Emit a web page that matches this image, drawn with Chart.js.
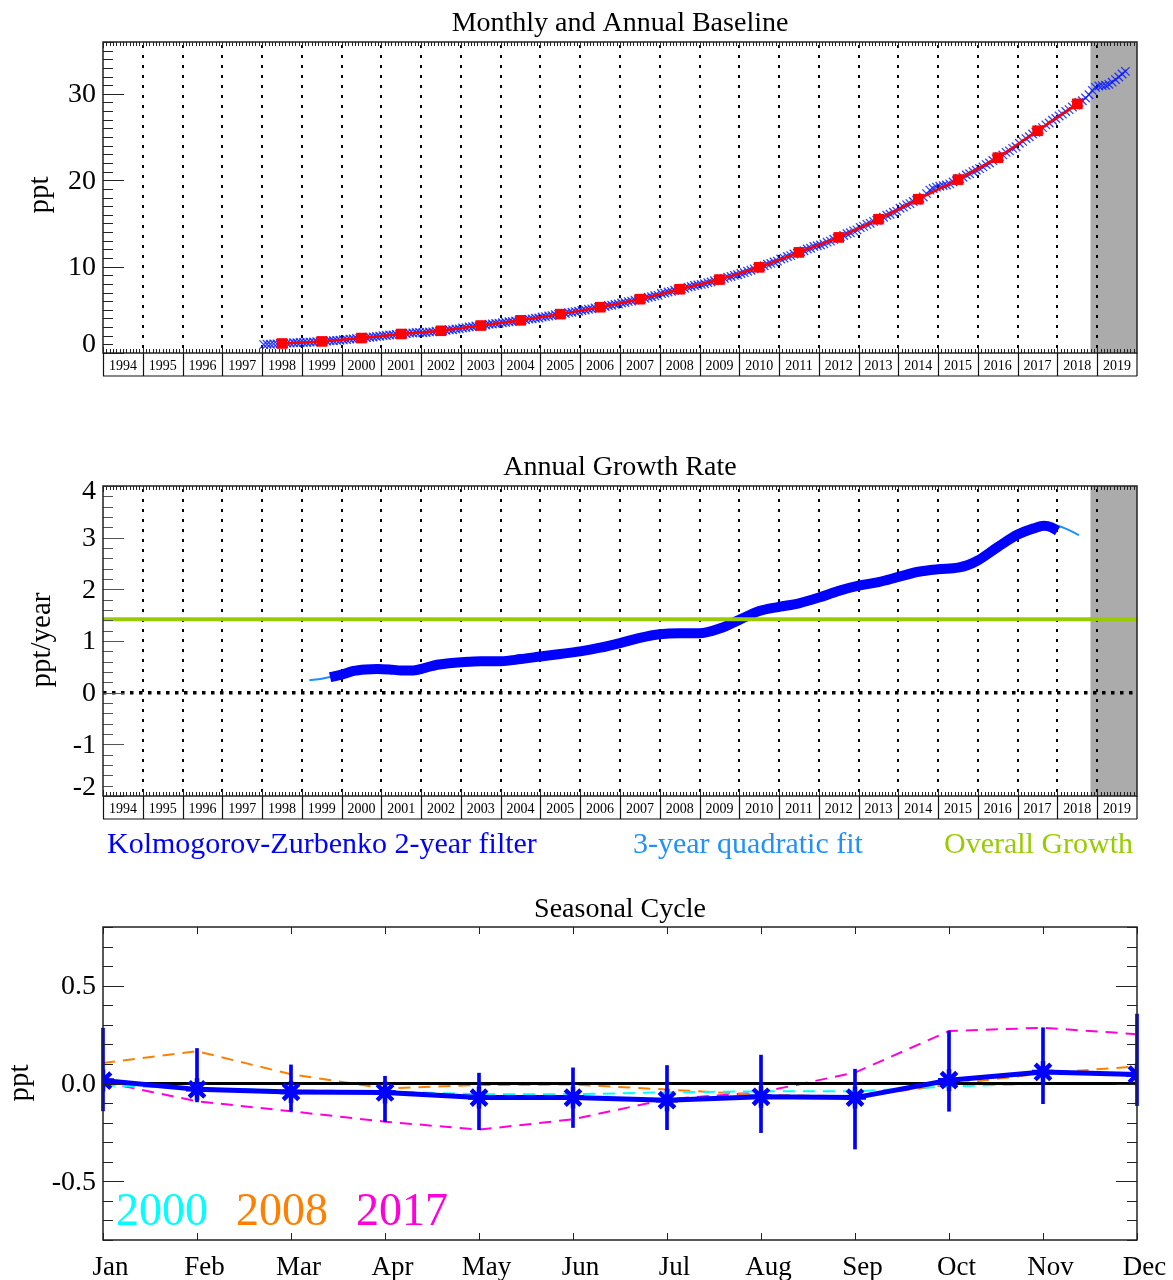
<!DOCTYPE html>
<html>
<head>
<meta charset="utf-8">
<script src="https://cdn.jsdelivr.net/npm/chart.js@4/dist/chart.umd.min.js"></script>
<style>
  body { margin: 0; background: #fff; width: 1173px; height: 1280px; position: relative; overflow: hidden; }
  canvas { position: absolute; left: 0; }
</style>
</head>
<body>
<canvas id="baseline" width="1173" height="420" style="top:0px"></canvas>
<canvas id="growth" width="1173" height="440" style="top:440px"></canvas>
<canvas id="seasonal" width="1173" height="400" style="top:880px"></canvas>
<script>
// ---- axis years (boxed labels under the time-series panels) ----
const axisYears = [1994, 1995, 1996, 1997, 1998, 1999, 2000, 2001, 2002, 2003, 2004, 2005, 2006,
                   2007, 2008, 2009, 2010, 2011, 2012, 2013, 2014, 2015, 2016, 2017, 2018, 2019];
const shadeFrom = 2018.83;   // data after this date are preliminary

// ---- monthly baseline (ppt), one row per year starting 1998 ----
const monthlyStartYear = 1998;
const monthlyBaseline = [
  [0.97, 1.01, 1.02, 1.06, 1.06, 1.10, 1.10, 1.14, 1.14, 1.18, 1.18, 1.22],
  [1.21, 1.22, 1.26, 1.27, 1.31, 1.32, 1.36, 1.37, 1.41, 1.42, 1.46, 1.47],
  [1.53, 1.55, 1.61, 1.63, 1.68, 1.70, 1.76, 1.78, 1.83, 1.85, 1.91, 1.93],
  [2.01, 2.03, 2.09, 2.10, 2.16, 2.17, 2.23, 2.24, 2.30, 2.31, 2.37, 2.39],
  [2.35, 2.37, 2.44, 2.45, 2.52, 2.53, 2.60, 2.62, 2.69, 2.70, 2.77, 2.79],
  [2.90, 2.94, 3.01, 3.04, 3.12, 3.14, 3.22, 3.25, 3.32, 3.35, 3.42, 3.45],
  [3.50, 3.54, 3.61, 3.64, 3.71, 3.74, 3.82, 3.85, 3.92, 3.95, 4.02, 4.05],
  [4.16, 4.21, 4.29, 4.33, 4.42, 4.46, 4.54, 4.58, 4.67, 4.71, 4.79, 4.83],
  [4.92, 4.97, 5.06, 5.11, 5.21, 5.25, 5.35, 5.39, 5.49, 5.53, 5.63, 5.68],
  [5.78, 5.84, 5.95, 6.01, 6.12, 6.17, 6.29, 6.34, 6.45, 6.51, 6.62, 6.67],
  [6.88, 6.95, 7.07, 7.13, 7.26, 7.32, 7.44, 7.50, 7.63, 7.69, 7.82, 7.88],
  [7.94, 8.02, 8.15, 8.22, 8.36, 8.43, 8.57, 8.64, 8.78, 8.85, 8.99, 9.06],
  [9.20, 9.30, 9.47, 9.57, 9.74, 9.83, 10.01, 10.10, 10.27, 10.37, 10.54, 10.63],
  [10.88, 10.98, 11.17, 11.27, 11.46, 11.55, 11.75, 11.84, 12.03, 12.13, 12.32, 12.41],
  [12.50, 12.63, 12.83, 12.95, 13.16, 13.27, 13.49, 13.60, 13.81, 13.92, 14.14, 14.25],
  [14.53, 14.66, 14.89, 15.01, 15.24, 15.37, 15.59, 15.72, 15.95, 16.07, 16.30, 16.42],
  [16.76, 16.90, 17.15, 17.29, 17.54, 17.68, 17.92, 18.06, 18.45, 18.85, 19.05, 19.20],
  [19.30, 19.38, 19.45, 19.58, 19.80, 19.94, 20.20, 20.34, 20.60, 20.75, 21.00, 21.15],
  [21.34, 21.54, 21.81, 22.00, 22.28, 22.47, 22.75, 22.93, 23.22, 23.40, 23.69, 23.87],
  [24.28, 24.50, 24.82, 25.03, 25.35, 25.56, 25.88, 26.09, 26.41, 26.62, 26.94, 27.15],
  [27.44, 27.65, 27.96, 28.17, 28.48, 28.69, 29.00, 29.20, 29.52, 29.90, 30.40, 30.75],
  [30.90, 30.95, 31.00, 31.10, 31.35, 31.65, 31.95, 32.30, 32.60]
];

// ---- annual baseline (ppt), plotted at mid-year ----
const annualYears = [1998, 1999, 2000, 2001, 2002, 2003, 2004, 2005, 2006, 2007, 2008,
                     2009, 2010, 2011, 2012, 2013, 2014, 2015, 2016, 2017, 2018];
const annualBaseline = [1.10, 1.34, 1.73, 2.20, 2.57, 3.18, 3.78, 4.50, 5.30, 6.23, 7.38,
                        8.50, 9.92, 11.65, 13.38, 15.48, 17.80, 20.07, 22.61, 25.72, 28.84];

// ---- annual growth rate (ppt/year) ----
const kzDates = [1999.71, 2000.0, 2000.3, 2000.6, 2000.9, 2001.2, 2001.5, 2001.8, 2002.1, 2002.4,
                 2002.7, 2003.0, 2003.5, 2004.0, 2004.5, 2005.0, 2005.5, 2006.0, 2006.5, 2007.0,
                 2007.5, 2008.0, 2008.5, 2009.0, 2009.5, 2010.0, 2010.5, 2011.0, 2011.5, 2012.0,
                 2012.5, 2013.0, 2013.5, 2014.0, 2014.5, 2015.0, 2015.5, 2015.75, 2016.0, 2016.5,
                 2017.0, 2017.4, 2017.66, 2017.85, 2018.0];
const kzRate = [0.30, 0.35, 0.42, 0.45, 0.46, 0.45, 0.43, 0.43, 0.48, 0.54,
                0.57, 0.59, 0.61, 0.61, 0.65, 0.70, 0.75, 0.80, 0.87, 0.96,
                1.06, 1.13, 1.15, 1.15, 1.24, 1.41, 1.58, 1.66, 1.73, 1.84,
                1.97, 2.07, 2.14, 2.24, 2.34, 2.39, 2.42, 2.47, 2.56, 2.82,
                3.06, 3.18, 3.23, 3.20, 3.13];
const quadDates = [1999.19, 1999.5, 1999.8, 2000.5, 2001.5, 2002.5, 2003.5, 2004.5, 2005.5, 2006.5,
                   2007.5, 2008.5, 2009.5, 2010.5, 2011.5, 2012.5, 2013.5, 2014.5, 2015.5, 2016.0,
                   2016.5, 2017.0, 2017.5, 2017.8, 2018.0, 2018.25, 2018.54];
const quadRate = [0.24, 0.27, 0.32, 0.44, 0.43, 0.55, 0.61, 0.65, 0.75, 0.87,
                  1.06, 1.15, 1.25, 1.58, 1.73, 1.97, 2.14, 2.34, 2.41, 2.54,
                  2.82, 3.06, 3.22, 3.25, 3.23, 3.16, 3.05];
const overallGrowth = 1.42;

// ---- seasonal cycle (ppt) ----
const months = ['Jan', 'Feb', 'Mar', 'Apr', 'May', 'Jun', 'Jul', 'Aug', 'Sep', 'Oct', 'Nov', 'Dec'];
const seasonalMean = [0.015, -0.03, -0.043, -0.046, -0.072, -0.072, -0.085, -0.068, -0.072, 0.017, 0.059, 0.046];
const seasonalLow  = [-0.14, -0.094, -0.142, -0.195, -0.236, -0.225, -0.236, -0.251, -0.335, -0.142, -0.103, -0.113];
const seasonalHigh = [0.283, 0.179, 0.095, 0.037, 0.053, 0.080, 0.092, 0.145, 0.073, 0.268, 0.285, 0.355];
const cycle2000 = [-0.01, -0.025, -0.035, -0.04, -0.055, -0.055, -0.045, -0.04, -0.04, -0.015, 0.0, 0.0];
const cycle2008 = [0.105, 0.165, 0.047, -0.025, -0.008, -0.005, -0.031, -0.058, -0.066, -0.007, 0.053, 0.087];
const cycle2017 = [0.008, -0.091, -0.142, -0.195, -0.236, -0.183, -0.08, -0.045, 0.056, 0.268, 0.285, 0.252];

// ---------------------------------------------------------------
const SERIF = '"Liberation Serif", "Times New Roman", Times, serif';
const BLUE = '#0000ff';

function drawText(ctx, str, x, y, size, color, align = 'center') {
  ctx.font = size + 'px ' + SERIF;
  ctx.fillStyle = color;
  ctx.textAlign = align;
  ctx.textBaseline = 'middle';
  ctx.fillText(str, x, y);
}
function drawVText(ctx, str, x, y, size) {
  ctx.save();
  ctx.translate(x, y);
  ctx.rotate(-Math.PI / 2);
  drawText(ctx, str, 0, 0, size, '#000');
  ctx.restore();
}
function seg(ctx, x1, y1, x2, y2) {
  ctx.beginPath(); ctx.moveTo(x1, y1); ctx.lineTo(x2, y2); ctx.stroke();
}
function yTicks(ctx, y, a, minor, major, both) {
  const n = Math.round((y.max - y.min) / minor);
  for (let i = 0; i <= n; i++) {
    const v = y.min + i * minor;
    const isMajor = Math.abs(v / major - Math.round(v / major)) < 1e-6;
    const len = isMajor ? 21 : 10;
    const py = Math.round(y.getPixelForValue(v)) + 0.5;
    seg(ctx, a.left, py, a.left + len, py);
    if (both) seg(ctx, a.right, py, a.right - len, py);
  }
}

// Decoration for the two time-series panels: shading, dotted year grid,
// ruler ticks, frame, boxed year labels, tick labels and titles.
function timeDecor(cfg) {
  return {
    id: 'timeDecor',
    beforeDatasetsDraw(chart) {
      const { ctx, chartArea: a } = chart;
      const x = chart.scales.x;
      ctx.save();
      const sx = x.getPixelForValue(shadeFrom);
      ctx.fillStyle = '#ababab';
      ctx.fillRect(sx, a.top, a.right - sx, a.bottom - a.top);
      ctx.strokeStyle = '#000';
      ctx.lineWidth = 2;
      ctx.setLineDash([3, 7]);
      for (let i = 1; i < axisYears.length; i++) {
        const px = Math.round(x.getPixelForValue(axisYears[i]));
        seg(ctx, px, a.top + 3, px, a.bottom);
      }
      ctx.restore();
    },
    afterDatasetsDraw(chart) {
      const { ctx, chartArea: a } = chart;
      const x = chart.scales.x, y = chart.scales.y;
      ctx.save();
      ctx.strokeStyle = '#222';
      ctx.lineWidth = 1;
      // monthly ruler ticks on top and bottom edges
      for (const yr of axisYears) {
        for (let m = 0; m < 12; m++) {
          const px = Math.round(x.getPixelForValue(yr + m / 12)) + 0.5;
          const len = m === 0 ? 6 : 4;
          seg(ctx, px, a.top, px, a.top + len);
          seg(ctx, px, a.bottom, px, a.bottom - len);
        }
      }
      ctx.strokeStyle = cfg.tickColor;
      yTicks(ctx, y, a, cfg.minor, cfg.major, false);
      // frame
      ctx.strokeStyle = '#222';
      ctx.lineWidth = 1.5;
      ctx.strokeRect(a.left, a.top, a.right - a.left, a.bottom - a.top);
      // boxed year labels
      const bh = 23;
      ctx.lineWidth = 1.2;
      ctx.strokeStyle = '#111';
      seg(ctx, a.left, a.bottom + bh, a.right, a.bottom + bh);
      seg(ctx, a.right, a.bottom, a.right, a.bottom + bh);
      for (const yr of axisYears) {
        const px = Math.round(x.getPixelForValue(yr)) + 0.5;
        seg(ctx, px, a.bottom, px, a.bottom + bh);
        drawText(ctx, String(yr), x.getPixelForValue(yr + 0.5), a.bottom + 13, 14, '#000');
      }
      // y tick labels (end labels nudged inside the frame)
      for (const v of cfg.labels) {
        let py = y.getPixelForValue(v) + 1;
        py = Math.min(Math.max(py, a.top + 6), a.bottom - 8);
        drawText(ctx, String(v), a.left - 7, py, 28, '#000', 'right');
      }
      drawText(ctx, cfg.title, (a.left + a.right) / 2, cfg.titleY, 28, '#000');
      drawVText(ctx, cfg.yTitle, cfg.yTitleX, cfg.yTitleY, 29);
      if (cfg.legend) {
        for (const it of cfg.legend) {
          drawText(ctx, it.text, it.x, cfg.legendY, 30, it.color, 'left');
        }
      }
      ctx.restore();
    }
  };
}

const commonOpts = (padding, xmin, xmax, ymin, ymax) => ({
  responsive: false,
  animation: false,
  events: [],
  layout: { padding },
  plugins: { legend: { display: false }, tooltip: { enabled: false }, title: { display: false } },
  scales: {
    x: { type: 'linear', min: xmin, max: xmax, display: false },
    y: { type: 'linear', min: ymin, max: ymax, display: false }
  }
});

// ---------------- Panel 1: monthly and annual baseline ----------------
const monthlyPoints = [];
monthlyBaseline.forEach((row, i) => {
  row.forEach((v, m) => monthlyPoints.push({ x: monthlyStartYear + i + (m + 0.5) / 12, y: v }));
});
const annualPoints = annualYears.map((yr, i) => ({ x: yr + 0.5, y: annualBaseline[i] }));

new Chart(document.getElementById('baseline'), {
  type: 'line',
  data: {
    datasets: [
      {
        data: annualPoints, order: 0,
        borderColor: '#ff0000', borderWidth: 2.5, backgroundColor: '#ff0000',
        pointStyle: 'rect', pointRadius: 7.5, pointBorderWidth: 0, tension: 0
      },
      {
        data: monthlyPoints, order: 1, showLine: false,
        pointStyle: 'crossRot', pointRadius: 6, pointBorderWidth: 1.3,
        pointBorderColor: 'rgba(10,30,255,0.85)', borderColor: BLUE
      }
    ]
  },
  options: commonOpts({ left: 103, right: 36, top: 42, bottom: 67 }, 1994, 2020, 0, 36),
  plugins: [timeDecor({
    minor: 1, major: 10, labels: [0, 10, 20, 30], tickColor: '#222',
    title: 'Monthly and Annual Baseline', titleY: 24,
    yTitle: 'ppt', yTitleX: 40, yTitleY: 195
  })]
});

// ---------------- Panel 2: annual growth rate ----------------
new Chart(document.getElementById('growth'), {
  type: 'line',
  data: {
    datasets: [
      {
        data: [{ x: 1994, y: overallGrowth }, { x: 2020, y: overallGrowth }], order: 0,
        borderColor: '#99cc00', borderWidth: 4, pointRadius: 0
      },
      {
        data: kzDates.map((d, i) => ({ x: d, y: kzRate[i] })), order: 1,
        borderColor: BLUE, borderWidth: 10, pointRadius: 0, cubicInterpolationMode: 'monotone'
      },
      {
        data: quadDates.map((d, i) => ({ x: d, y: quadRate[i] })), order: 2,
        borderColor: '#1e90ff', borderWidth: 2, pointRadius: 0, cubicInterpolationMode: 'monotone'
      },
      {
        data: [{ x: 1994, y: 0 }, { x: 2020, y: 0 }], order: 3,
        borderColor: '#000', borderWidth: 3.5, borderDash: [3.5, 5.5], pointRadius: 0
      }
    ]
  },
  options: commonOpts({ left: 103, right: 36, top: 46, bottom: 84 }, 1994, 2020, -2, 4),
  plugins: [timeDecor({
    minor: 0.2, major: 1, labels: [-2, -1, 0, 1, 2, 3, 4], tickColor: '#555',
    title: 'Annual Growth Rate', titleY: 28,
    yTitle: 'ppt/year', yTitleX: 42, yTitleY: 200,
    legendY: 405,
    legend: [
      { text: 'Kolmogorov-Zurbenko 2-year filter', x: 107, color: BLUE },
      { text: '3-year quadratic fit', x: 633, color: '#1e90ff' },
      { text: 'Overall Growth', x: 944, color: '#99cc00' }
    ]
  })]
});

// ---------------- Panel 3: seasonal cycle ----------------
const seasonalDecor = {
  id: 'seasonalDecor',
  afterDatasetsDraw(chart) {
    const { ctx, chartArea: a } = chart;
    const x = chart.scales.x, y = chart.scales.y;
    ctx.save();
    ctx.strokeStyle = '#222';
    ctx.lineWidth = 1;
    yTicks(ctx, y, a, 0.1, 0.5, true);
    months.forEach((mName, i) => {
      const px = Math.round(x.getPixelForValue(i)) + 0.5;
      seg(ctx, px, a.top, px, a.top + 7);
      seg(ctx, px, a.bottom, px, a.bottom - 7);
      drawText(ctx, mName, px + 7, a.bottom + 28, 27, '#000');
    });
    ctx.lineWidth = 1.5;
    ctx.strokeRect(a.left, a.top, a.right - a.left, a.bottom - a.top);
    for (const v of [-0.5, 0, 0.5]) {
      drawText(ctx, v.toFixed(1), a.left - 7, y.getPixelForValue(v) + 1, 28, '#000', 'right');
    }
    drawText(ctx, 'Seasonal Cycle', (a.left + a.right) / 2, 30, 28, '#000');
    drawVText(ctx, 'ppt', 20, 203, 29);
    drawText(ctx, '2000', 116, 333, 46, '#00ffff', 'left');
    drawText(ctx, '2008', 236, 333, 46, '#ff8000', 'left');
    drawText(ctx, '2017', 356, 333, 46, '#ff00dd', 'left');
    ctx.restore();
  }
};

new Chart(document.getElementById('seasonal'), {
  type: 'line',
  data: {
    labels: months,
    datasets: [
      {
        data: seasonalMean, order: 0, clip: 0,
        borderColor: BLUE, borderWidth: 5, pointStyle: 'star', pointRadius: 11,
        pointBorderWidth: 4.5, pointBorderColor: BLUE, pointBackgroundColor: BLUE
      },
      {
        type: 'bar', data: seasonalLow.map((lo, i) => [lo, seasonalHigh[i]]), order: 1,
        backgroundColor: BLUE, barThickness: 3, grouped: false, clip: false
      },
      {
        data: months.map(() => 0), order: 2,
        borderColor: '#000', borderWidth: 3, pointRadius: 0
      },
      {
        data: cycle2000, order: 3,
        borderColor: '#00ffff', borderWidth: 2, borderDash: [12, 8], pointRadius: 0
      },
      {
        data: cycle2008, order: 4,
        borderColor: '#ff8000', borderWidth: 2, borderDash: [12, 8], pointRadius: 0
      },
      {
        data: cycle2017, order: 5,
        borderColor: '#ff00dd', borderWidth: 2, borderDash: [12, 8], pointRadius: 0
      }
    ]
  },
  options: {
    responsive: false,
    animation: false,
    events: [],
    layout: { padding: { left: 103, right: 36, top: 47, bottom: 40 } },
    plugins: { legend: { display: false }, tooltip: { enabled: false } },
    scales: {
      x: { type: 'category', offset: false, display: false },
      y: { type: 'linear', min: -0.8, max: 0.8, display: false }
    }
  },
  plugins: [seasonalDecor]
});
</script>
</body>
</html>
